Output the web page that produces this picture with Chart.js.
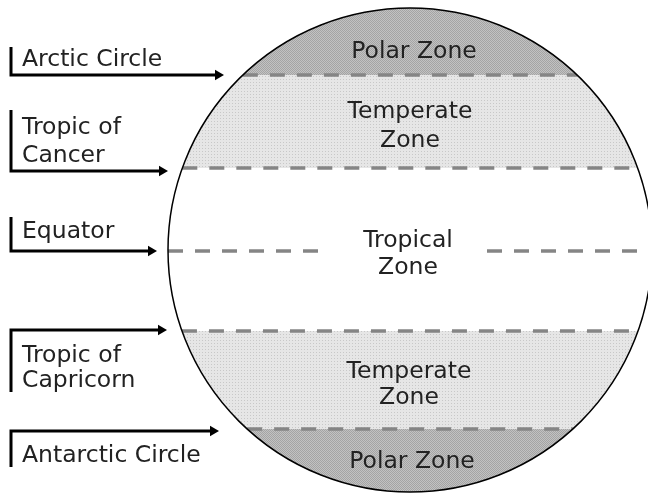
<!DOCTYPE html>
<html>
<head>
<meta charset="utf-8">
<script src="https://cdn.jsdelivr.net/npm/chart.js@4/dist/chart.umd.min.js"></script>
<style>
  body { margin: 0; background: #fff; }
</style>
</head>
<body>
<canvas id="zones" width="648" height="493"></canvas>
<script>
// latitude lines, top to bottom (y in picture units)
const latitudeNames = ['Arctic Circle', 'Tropic of Cancer', 'Equator', 'Tropic of Capricorn', 'Antarctic Circle'];
const latitudeY = [75, 168, 251, 331, 429];

// zones between the lines (the equator runs through the tropical zone)
const zoneNames = ['Polar Zone', 'Temperate Zone', 'Tropical Zone', 'Temperate Zone', 'Polar Zone'];
const zoneKind = ['polar', 'temperate', 'tropical', 'temperate', 'polar'];

// layout (not data)
const globe = { x: 410, y: 250, r: 242 };
const equatorGap = [327, 487];
const zoneLines = [['Polar Zone'], ['Temperate', 'Zone'], ['Tropical', 'Zone'], ['Temperate', 'Zone'], ['Polar Zone']];
const zoneTextX = [414, 410, 408, 409, 412];
const zoneTextY = [[58], [118, 147], [247, 274], [378, 404], [468]];
const labelLines = [['Arctic Circle'], ['Tropic of', 'Cancer'], ['Equator'], ['Tropic of', 'Capricorn'], ['Antarctic Circle']];
const labelTextY = [[66], [134, 162], [238], [362, 387], [462]];
const arrowY = [75, 171, 251, 330, 431];
const arrowTip = [224, 168, 157, 167, 219];
const arrowBarEnd = [47, 110, 217, 392, 467];
const TEXT_FONT = '23.5px "DejaVu Sans"';

// dithered fills like the old screen-tone look
function tone(size, base, dot, dots) {
  const c = document.createElement('canvas');
  c.width = c.height = size;
  const g = c.getContext('2d');
  g.fillStyle = base;
  g.fillRect(0, 0, size, size);
  g.fillStyle = dot;
  dots.forEach(([x, y]) => g.fillRect(x, y, 1, 1));
  return g.createPattern(c, 'repeat');
}

function chord(y) {
  const dy = y - globe.y;
  const dx = Math.sqrt(globe.r * globe.r - dy * dy);
  return [globe.x - dx, globe.x + dx];
}

// dashed latitude lines
const lineSets = latitudeY.map((y, i) => {
  const [a, b] = chord(y);
  let pts = [{ x: a, y: y }, { x: b, y: y }];
  if (latitudeNames[i] === 'Equator') {
    pts = [{ x: a, y: y }, { x: equatorGap[0], y: y }, { x: (equatorGap[0] + equatorGap[1]) / 2, y: null },
           { x: equatorGap[1], y: y }, { x: b, y: y }];
  }
  return {
    label: latitudeNames[i],
    data: pts,
    showLine: true,
    borderColor: '#858585',
    borderWidth: 3.5,
    borderDash: [15, 12],
    borderCapStyle: 'butt',
    pointRadius: 0,
    spanGaps: false
  };
});

// pointer arrows
const arrowSets = latitudeNames.map((name, i) => ({
  label: name + ' arrow',
  data: [{ x: 11, y: arrowBarEnd[i] }, { x: 11, y: arrowY[i] }, { x: arrowTip[i] - 6, y: arrowY[i] }],
  showLine: true,
  borderColor: '#000',
  borderWidth: 3,
  borderJoinStyle: 'miter',
  borderCapStyle: 'butt',
  pointRadius: [0, 0, 6],
  pointStyle: 'triangle',
  pointRotation: 90,
  pointBackgroundColor: '#000',
  pointBorderWidth: 0
}));

function globePath(chart) {
  const { ctx, scales } = chart;
  const cx = scales.x.getPixelForValue(globe.x);
  const r = scales.x.getPixelForValue(globe.x + globe.r) - cx;
  ctx.beginPath();
  ctx.arc(cx, scales.y.getPixelForValue(globe.y), r, 0, Math.PI * 2);
}

let shade;

const globePlugin = {
  id: 'globe',
  beforeDatasetsDraw(chart) {
    const { ctx, scales } = chart;
    const py = v => scales.y.getPixelForValue(v);
    if (!shade) {
      shade = {
        polar: tone(2, '#c2c2c2', '#a4a4a4', [[0, 0], [1, 1]]),
        temperate: tone(3, '#e6e6e6', '#c8c8c8', [[1, 1]]),
        tropical: '#ffffff'
      };
    }
    // zone boundaries: every latitude line except the equator
    const bounds = latitudeY.filter((y, i) => latitudeNames[i] !== 'Equator');
    const edges = [scales.y.min, ...bounds, scales.y.max];
    ctx.save();
    globePath(chart);
    ctx.clip();
    zoneKind.forEach((k, i) => {
      ctx.fillStyle = shade[k];
      ctx.fillRect(0, py(edges[i]), chart.width, py(edges[i + 1]) - py(edges[i]));
    });
    ctx.restore();
  },
  beforeDatasetDraw(chart, args) {
    if (args.index >= latitudeY.length) return;
    chart.ctx.save();
    globePath(chart);
    chart.ctx.clip();
  },
  afterDatasetDraw(chart, args) {
    if (args.index >= latitudeY.length) return;
    chart.ctx.restore();
  },
  afterDatasetsDraw(chart) {
    const { ctx, scales } = chart;
    const px = v => scales.x.getPixelForValue(v);
    const py = v => scales.y.getPixelForValue(v);
    ctx.save();
    globePath(chart);
    ctx.strokeStyle = '#000';
    ctx.lineWidth = 1.5;
    ctx.stroke();

    ctx.font = TEXT_FONT;
    ctx.fillStyle = '#222';
    ctx.textBaseline = 'alphabetic';
    ctx.textAlign = 'center';
    zoneLines.forEach((lines, i) => {
      lines.forEach((t, j) => ctx.fillText(t, px(zoneTextX[i]), py(zoneTextY[i][j])));
    });
    ctx.textAlign = 'left';
    labelLines.forEach((lines, i) => {
      lines.forEach((t, j) => ctx.fillText(t, px(22), py(labelTextY[i][j])));
    });
    ctx.restore();
  }
};

new Chart(document.getElementById('zones'), {
  type: 'scatter',
  data: { datasets: [...lineSets, ...arrowSets] },
  options: {
    responsive: false,
    animation: false,
    layout: { padding: 0, autoPadding: false },
    plugins: { legend: { display: false }, tooltip: { enabled: false } },
    scales: {
      x: { type: 'linear', min: 0, max: 648, display: false },
      y: { type: 'linear', min: 0, max: 493, reverse: true, display: false }
    }
  },
  plugins: [globePlugin]
});
</script>
</body>
</html>
